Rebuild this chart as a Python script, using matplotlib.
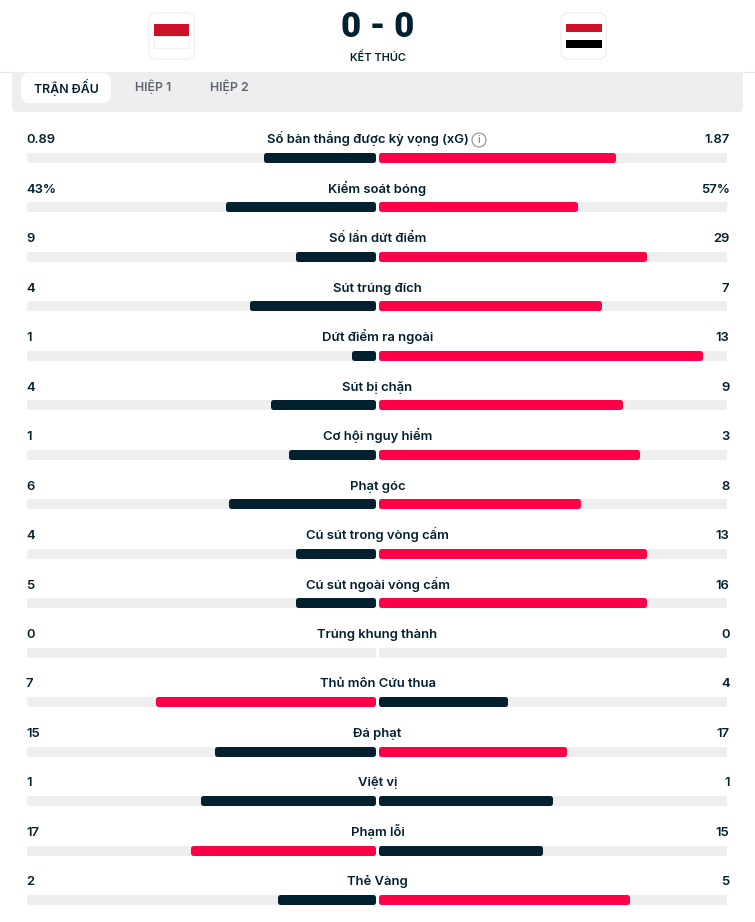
import matplotlib
matplotlib.use("Agg")
import matplotlib.pyplot as plt
from matplotlib.patches import FancyBboxPatch, Rectangle, Circle

W, H = 755, 922
plt.rcParams['font.family'] = ['Inter', 'Noto Sans', 'DejaVu Sans']

labels = ["Số bàn thắng được kỳ vọng (xG)", "Kiểm soát bóng", "Số lần dứt điểm", "Sút trúng đích",
          "Dứt điểm ra ngoài", "Sút bị chặn", "Cơ hội nguy hiểm", "Phạt góc",
          "Cú sút trong vòng cấm", "Cú sút ngoài vòng cấm", "Trúng khung thành", "Thủ môn Cứu thua",
          "Đá phạt", "Việt vị", "Phạm lỗi", "Thẻ Vàng"]
home_text = ["0.89", "43%", "9", "4", "1", "4", "1", "6", "4", "5", "0", "7", "15", "1", "17", "2"]
away_text = ["1.87", "57%", "29", "7", "13", "9", "3", "8", "13", "16", "0", "4", "17", "1", "15", "5"]
home_share = [0.32, 0.43, 0.23, 0.36, 0.07, 0.30, 0.25, 0.42, 0.23, 0.23, 0.0, 0.63, 0.46, 0.50, 0.53, 0.28]
away_share = [0.68, 0.57, 0.77, 0.64, 0.93, 0.70, 0.75, 0.58, 0.77, 0.77, 0.0, 0.37, 0.54, 0.50, 0.47, 0.72]
tabs = ["TRẬN ĐẤU", "HIỆP 1", "HIỆP 2"]
score = "0 - 0"
status = "KẾT THÚC"

DARK, RED, TRACK = "#03202f", "#ff0046", "#eeeeee"
row_top, row_step, bar_h = 152.5, 49.47, 10
px = 1 / 349

fig = plt.figure(figsize=(W / 100, H / 100), dpi=100, facecolor="white")
bg = fig.add_axes([0, 0, 1, 1], zorder=0)
bg.set_xlim(0, W); bg.set_ylim(H, 0); bg.axis("off")

# header and tab strip
bg.add_patch(FancyBboxPatch((12, 60), 731, 52, boxstyle="round,pad=0,rounding_size=5", fc=TRACK, ec="none"))
bg.add_patch(Rectangle((0, 0), W, 72, fc="white", ec="none"))
bg.plot([0, 12], [72, 72], color="#e6e6e6", lw=0.8)
bg.plot([743, W], [72, 72], color="#e6e6e6", lw=0.8)
bg.add_patch(FancyBboxPatch((21, 73), 90, 30, boxstyle="round,pad=0,rounding_size=8", fc="white", ec="none"))
for x, t, c in zip([66.5, 153.5, 229.5], tabs, [DARK, "#5b6670", "#5b6670"]):
    bg.text(x, 87, t, ha="center", va="center", fontsize=8.9, fontweight=600, color=c)
for x in (149, 561):
    bg.add_patch(FancyBboxPatch((x, 13), 45.5, 46, boxstyle="round,pad=0,rounding_size=8", fc="white", ec="#eeeeee", lw=0.8))
bg.add_patch(Rectangle((154, 24.5), 35, 12, fc="#ce1126", ec="none"))
bg.add_patch(Rectangle((154, 36.5), 35, 12, fc="white", ec="#eeeeee", lw=0.6))
bg.add_patch(Rectangle((566, 24.5), 35.5, 8, fc="#ce1126", ec="none"))
bg.add_patch(Rectangle((566, 40), 35.5, 8, fc="#000000", ec="none"))
bg.text(377.5, 37, score, ha="center", va="baseline", fontsize=25, fontweight=800, color=DARK, family=['Roboto', 'DejaVu Sans'])
bg.text(377.5, 57.5, status, ha="center", va="center", fontsize=7.9, fontweight=600, color=DARK)


def row_y(i):
    return row_top + i * row_step + bar_h / 2


# the two half-tracks, with share units on x running outward from the centre
left = fig.add_axes([26 / W, 0, 349.5 / W, 1], zorder=1)
right = fig.add_axes([378.5 / W, 0, 348.5 / W, 1], zorder=1)
left.set_xlim(1, 0); right.set_xlim(0, 1)
rounded = dict(height=bar_h - 5, linewidth=3.6, joinstyle="round")
for ax, shares, other in [(left, home_share, away_share), (right, away_share, home_share)]:
    ax.set_ylim(H, 0); ax.axis("off"); ax.patch.set_alpha(0)
    ys = [row_y(i) for i in range(len(shares))]
    ax.barh(ys, [1 - 5 * px] * len(ys), left=2.5 * px, color=TRACK, edgecolor=TRACK, **rounded)
    # the team with the greater share is red, unless tied
    for y, s, o in zip(ys, shares, other):
        if s == 0:
            continue
        c = RED if s > o else DARK
        ax.barh(y, s - 5 * px, left=2.5 * px, color=c, edgecolor=c, **rounded)

# row texts
for i, (lab, a, b) in enumerate(zip(labels, home_text, away_text)):
    y = row_y(i) - 14.2
    kw = dict(va="baseline", fontsize=9.4, fontweight=600, color=DARK)
    bg.text(26, y, a, ha="left", **kw)
    bg.text(729.5, y, b, ha="right", **kw)
    bg.text(367.5 if i == 0 else 377.5, y, lab, ha="center", **kw)
bg.add_patch(Circle((479, 140), 7, fc="white", ec="#9a9a9a", lw=0.9))
bg.text(479, 140, "i", ha="center", va="center", fontsize=8, color="#8a8a8a", fontweight=500)

fig.savefig("out.png", dpi=100, facecolor="white")
